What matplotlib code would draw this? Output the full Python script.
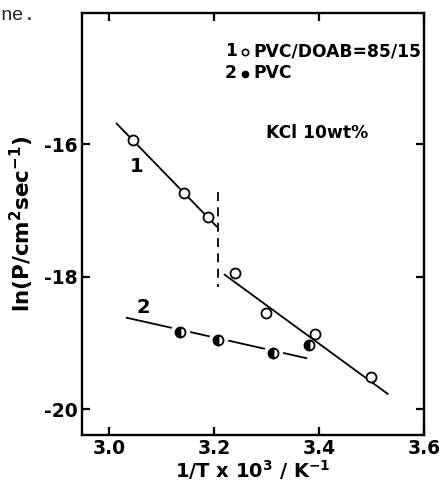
import matplotlib
matplotlib.use("Agg")
import matplotlib.pyplot as plt

plt.rcParams["font.family"] = ["DejaVu Sans"]
plt.rcParams["font.weight"] = "bold"
plt.rcParams["axes.labelweight"] = "bold"
plt.rcParams["mathtext.fontset"] = "custom"
plt.rcParams["mathtext.rm"] = "DejaVu Sans:bold"
plt.rcParams["mathtext.default"] = "rm"
plt.rcParams["axes.unicode_minus"] = False

# Series 1: PVC/DOAB = 85/15 (open circles)
x1 = [3.046, 3.143, 3.188, 3.241, 3.300, 3.393, 3.499]
y1 = [-15.94, -16.73, -17.10, -17.94, -18.55, -18.87, -19.52]
# Series 2: PVC (half-filled circles)
x2 = [3.135, 3.207, 3.313, 3.382]
y2 = [-18.83, -18.96, -19.15, -19.03]

# Fitted lines
fit1a_x = [3.015, 3.205]
fit1a_y = [-15.69, -17.24]
fit1b_x = [3.2205, 3.531]
fit1b_y = [-17.97, -19.77]
fit2_x = [3.034, 3.376]
fit2_y = [-18.62, -19.23]
# transition (dashed vertical)
trans_x = [3.207, 3.207]
trans_y = [-16.72, -18.15]

xticks = [3.0, 3.2, 3.4, 3.6]
xticklabels = ["3.0", "3.2", "3.4", "3.6"]
yticks = [-16, -18, -20]
yticklabels = ["-16", "-18", "-20"]

W, H = 441, 490
fig = plt.figure(figsize=(W / 100, H / 100), dpi=100)
L, R, T, B = 82, 424, 13, 435
ax = fig.add_axes([L / W, (H - B) / H, (R - L) / W, (B - T) / H])

ax.set_xlim(2.949, 3.6)
ax.set_ylim(-20.39, -14.02)

# series 2 line + halos + markers
ax.plot(fit2_x, fit2_y, color="black", lw=1.3, zorder=2)
ax.plot(x2, y2, ls="none", marker="o", ms=13, mfc="white", mec="white", zorder=3)
ax.plot(x2, y2, ls="none", marker="o", ms=7.2, fillstyle="left",
        mfc="black", mfcalt="white", mec="black", mew=1.3, zorder=4)

# series 1 lines + markers
ax.plot(fit1a_x, fit1a_y, color="black", lw=1.3, zorder=5)
ax.plot(fit1b_x, fit1b_y, color="black", lw=1.3, zorder=5)
ax.plot(trans_x, trans_y, color="black", lw=1.3, dashes=(5, 3.5), zorder=5)
ax.plot(x1, y1, ls="none", marker="o", ms=7.2, mfc="white", mec="black",
        mew=1.3, zorder=6)

# curve labels
ax.text(3.053, -16.34, "1", fontsize=14, ha="center", va="center")
ax.text(3.065, -18.47, "2", fontsize=14, ha="center", va="center")

# legend block
def axx(px):
    return (px - L) / (R - L)

def axy(py):
    return (B - py) / (B - T)

fs = 12.3
ax.text(axx(225), axy(51), "1", fontsize=fs, ha="left", va="center", transform=ax.transAxes)
ax.plot([axx(245)], [axy(52)], transform=ax.transAxes, marker="o", ms=4.5,
        mfc="white", mec="black", mew=1.2, ls="none", clip_on=False)
ax.text(axx(253), axy(51), "PVC/DOAB=85/15", fontsize=fs, ha="left", va="center",
        transform=ax.transAxes)
ax.text(axx(225), axy(73), "2", fontsize=fs, ha="left", va="center", transform=ax.transAxes)
ax.plot([axx(245)], [axy(74)], transform=ax.transAxes, marker="o", ms=4.5,
        mfc="black", mec="black", ls="none", clip_on=False)
ax.text(axx(253), axy(73), "PVC", fontsize=fs, ha="left", va="center",
        transform=ax.transAxes)
ax.text(axx(266), axy(133), "KCl 10wt%", fontsize=fs, ha="left", va="center",
        transform=ax.transAxes)

# axes styling
for s in ax.spines.values():
    s.set_linewidth(1.7)
ax.set_xticks(xticks)
ax.set_xticklabels(xticklabels)
ax.set_yticks(yticks)
ax.set_yticklabels(yticklabels)
ax.tick_params(direction="in", length=6, width=1.6, top=True, right=True,
               labelsize=13.5, pad=3)
ax.set_xlabel("1/T x 10$^{3}$ / K$^{-1}$", fontsize=14, labelpad=0)
ax.set_ylabel("ln(P/cm$^{2}$sec$^{-1}$)", fontsize=15.5, labelpad=6)

fig.text(0.0, 1 - 16 / H, "ne.", family="Liberation Mono", fontsize=14,
         fontweight="normal", color="#222222", ha="left", va="center")

fig.savefig("out.png", dpi=100)
